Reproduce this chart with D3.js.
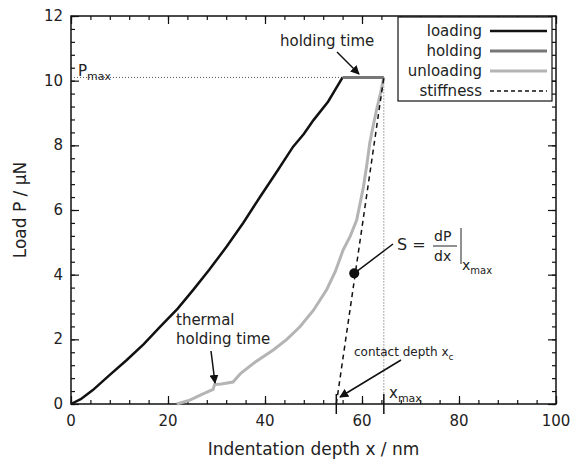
<!DOCTYPE html>
<html><head><meta charset="utf-8">
<script src="https://cdn.jsdelivr.net/npm/d3@7"></script>
<style>body{margin:0;background:#fff}text{font-family:"DejaVu Sans",sans-serif;fill:#222}</style>
</head><body><svg id="c" width="573" height="462"></svg>
<script>
const loading = [[0,0],[2,0.15],[4.5,0.43],[8,0.9],[11.5,1.36],[15,1.85],[18.4,2.39],[22,2.95],[25.2,3.53],[28.5,4.15],[32.1,4.87],[35.5,5.6],[39,6.41],[42.5,7.2],[45.8,7.96],[48,8.35],[50,8.78],[53,9.35],[56,10.1]];
const holding = [[56,10.1],[64.5,10.1]];
const unloading = [[64.5,10.1],[63.8,9.6],[63,9.1],[62.3,8.6],[61.6,8.07],[61,7.4],[60.3,6.72],[59.6,6.2],[58.9,5.69],[57.6,5.2],[56.1,4.76],[54.5,4.1],[52.7,3.53],[50,2.9],[47.2,2.39],[44.5,2.0],[41.7,1.67],[38,1.3],[35,0.95],[33.4,0.68],[31,0.62],[29.6,0.6],[29.3,0.45],[27,0.3],[24.5,0.12],[21.8,0]];
const stiffness = [[54.7,0],[64.5,10.1]];
const xTicks = [0,20,40,60,80,100];
const yTicks = [0,2,4,6,8,10,12];
const pmax = 10.1, xmax = 64.5, xc = 54.7;

const svg = d3.select("#c");
const L=71,R=556,T=16,B=404;
const x = d3.scaleLinear().domain([0,100]).range([L,R]);
const y = d3.scaleLinear().domain([0,12]).range([B,T]);
const line = d3.line().x(d=>x(d[0])).y(d=>y(d[1]));

svg.append("rect").attr("x",L).attr("y",T).attr("width",R-L).attr("height",B-T).attr("fill","none").attr("stroke","#111").attr("stroke-width",1.5);

function ticksX(yy,dir){
  svg.append("g").attr("transform",`translate(0,${yy})`).call(d3.axisBottom(x).tickValues(d3.range(0,101,4)).tickSize(dir*4).tickFormat(""))
    .call(g=>g.select(".domain").remove());
  svg.append("g").attr("transform",`translate(0,${yy})`).call(d3.axisBottom(x).tickValues(xTicks).tickSize(dir*8).tickFormat(""))
    .call(g=>g.select(".domain").remove());
}
function ticksY(xx,dir){
  svg.append("g").attr("transform",`translate(${xx},0)`).call(d3.axisRight(y).tickValues(d3.range(0,12.01,0.4)).tickSize(dir*4).tickFormat(""))
    .call(g=>g.select(".domain").remove());
  svg.append("g").attr("transform",`translate(${xx},0)`).call(d3.axisRight(y).tickValues(yTicks).tickSize(dir*8).tickFormat(""))
    .call(g=>g.select(".domain").remove());
}
ticksX(B,-1);ticksX(T,1);ticksY(L,1);ticksY(R,-1);
svg.selectAll(".tick line").attr("stroke","#111").attr("stroke-width",1.2);

svg.selectAll(".xl").data(xTicks).join("text").attr("x",d=>x(d)).attr("y",B+22).attr("text-anchor","middle").attr("font-size",15).text(d=>d);
svg.selectAll(".yl").data(yTicks).join("text").attr("x",L-8).attr("y",d=>y(d)+5).attr("text-anchor","end").attr("font-size",15).text(d=>d);
svg.append("text").attr("x",(L+R)/2).attr("y",455).attr("text-anchor","middle").attr("font-size",17).text("Indentation depth x / nm");
svg.append("text").attr("transform",`translate(26,${(T+B)/2}) rotate(-90)`).attr("text-anchor","middle").attr("font-size",17).text("Load P / µN");

// guides
svg.append("line").attr("x1",x(0)).attr("x2",x(56)).attr("y1",y(pmax)).attr("y2",y(pmax)).attr("stroke","#555").attr("stroke-dasharray","1,2");
svg.append("line").attr("x1",x(xmax)).attr("x2",x(xmax)).attr("y1",y(pmax)).attr("y2",y(0)).attr("stroke","#555").attr("stroke-dasharray","1,2");

svg.append("path").attr("d",line(unloading)).attr("fill","none").attr("stroke","#b4b4b4").attr("stroke-width",3);
svg.append("path").attr("d",line(loading)).attr("fill","none").attr("stroke","#111").attr("stroke-width",2.5);
svg.append("path").attr("d",line(holding)).attr("fill","none").attr("stroke","#777").attr("stroke-width",3);
svg.append("path").attr("d",line(stiffness)).attr("fill","none").attr("stroke","#111").attr("stroke-width",1.5).attr("stroke-dasharray","5,4");

[xc,xmax].forEach(v=>svg.append("line").attr("x1",x(v)).attr("x2",x(v)).attr("y1",B-10).attr("y2",B+10).attr("stroke","#111").attr("stroke-width",1.5));

const defs=svg.append("defs");
defs.append("marker").attr("id","ah").attr("viewBox","0 0 10 10").attr("refX",9).attr("refY",5).attr("markerWidth",6).attr("markerHeight",6).attr("orient","auto")
  .append("path").attr("d","M0,0L10,5L0,10z").attr("fill","#111");
function arrow(x1,y1,x2,y2){svg.append("line").attr("x1",x1).attr("y1",y1).attr("x2",x2).attr("y2",y2).attr("stroke","#111").attr("stroke-width",1.5).attr("marker-end","url(#ah)");}
function sub(xx,yy,fs,main,s,sfs){
  const t=svg.append("text").attr("x",xx).attr("y",yy).attr("font-size",fs);
  t.append("tspan").text(main);
  t.append("tspan").attr("font-size",sfs).attr("dy",4).text(s);
}

svg.append("text").attr("x",280).attr("y",46).attr("font-size",15).text("holding time");
arrow(337,52,359,74);
sub(78,76,15,"P","max",11);
svg.append("text").attr("x",176).attr("y",325).attr("font-size",15).text("thermal");
svg.append("text").attr("x",176).attr("y",344).attr("font-size",15).text("holding time");
arrow(211,351,215,383);
sub(354,356,12,"contact depth x","c",9);
arrow(401,360,340,397);
sub(389,398,15,"x","max",11);

// S formula
svg.append("circle").attr("cx",x(58.4)).attr("cy",y(4.04)).attr("r",5).attr("fill","#111");
svg.append("line").attr("x1",x(58.4)).attr("y1",y(4.04)).attr("x2",393).attr("y2",244).attr("stroke","#111").attr("stroke-width",1.5);
svg.append("text").attr("x",397).attr("y",250).attr("font-size",16).text("S =");
svg.append("text").attr("x",434).attr("y",241).attr("font-size",14).text("dP");
svg.append("line").attr("x1",433).attr("x2",457).attr("y1",246).attr("y2",246).attr("stroke","#222").attr("stroke-width",1);
svg.append("text").attr("x",434).attr("y",261).attr("font-size",14).text("dx");
svg.append("line").attr("x1",461).attr("x2",461).attr("y1",228).attr("y2",264).attr("stroke","#222").attr("stroke-width",1);
sub(462,270,14,"x","max",10);

// legend
const leg=[["loading","#111","",2.5],["holding","#777","",3],["unloading","#b4b4b4","",3],["stiffness","#111","4,3",1.5]];
svg.append("rect").attr("x",398).attr("y",17).attr("width",154).attr("height",84).attr("fill","#fff").attr("stroke","#111").attr("stroke-width",1.2);
leg.forEach((d,i)=>{
  const yy=31+i*20;
  svg.append("text").attr("x",482).attr("y",yy+5).attr("text-anchor","end").attr("font-size",15).text(d[0]);
  svg.append("line").attr("x1",490).attr("x2",547).attr("y1",yy).attr("y2",yy).attr("stroke",d[1]).attr("stroke-width",d[3]).attr("stroke-dasharray",d[2]||null);
});
</script></body></html>
